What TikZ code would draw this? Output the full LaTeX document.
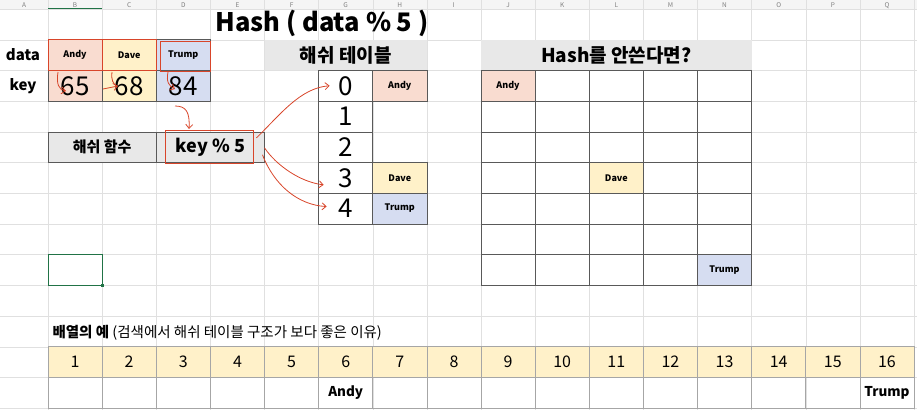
\documentclass[tikz,border=0pt]{standalone}
\usepackage{fontspec}
\setmainfont{Noto Sans CJK KR}
\usetikzlibrary{arrows.meta,positioning}
\definecolor{pinkc}{HTML}{F9DCD0}
\definecolor{yelc}{HTML}{FFF1C9}
\definecolor{bluec}{HTML}{D6DDF1}
\definecolor{grayc}{HTML}{E8E8E8}
\definecolor{gridc}{HTML}{E0E0E0}
\definecolor{redc}{HTML}{D8452A}
\definecolor{selc}{HTML}{217346}
\newcommand{\cx}[1]{48+54.125*(#1-0.5)}
\newcommand{\ry}[1]{9+30.7*(#1-0.5)}
\tikzset{
  cell/.style={minimum width=54.125pt,minimum height=30.7pt,inner sep=0pt,outer sep=0pt,draw=black!65,line width=0.6pt},
  wide/.style={cell,minimum width=108.25pt},
  lbl/.style={font=\bfseries\fontsize{9}{10}\selectfont},
  bignum/.style={font=\fontsize{26}{28}\selectfont},
  head/.style={font=\bfseries\fontsize{19}{21}\selectfont},
  colltr/.style={font=\fontsize{6.5}{7}\selectfont,text=black!50,anchor=base},
  redbox/.style={draw=redc,line width=1pt},
  hand/.style={draw=redc,line width=0.8pt,-{Straight Barb[length=4pt,width=7pt]}}
}
\begin{document}
\begin{tikzpicture}[x=1pt,y=-1pt]
\useasboundingbox (0,0) rectangle (917,410);
\clip (0,0) rectangle (917,410);
% sheet grid and column letters
\fill[black!4] (0,0) rectangle (917,9);
\foreach \k in {0,...,16} \draw[gridc] ({48+54.125*\k},0) -- ({48+54.125*\k},410);
\foreach \k in {0,...,13} \draw[gridc] (0,{9+30.7*\k}) -- (917,{9+30.7*\k});
\node[colltr] at (24,7.3) {A};
\foreach \c/\l in {1/B,2/C,3/D,4/E,5/F,6/G,7/H,8/I,9/J,10/K,11/L,12/M,13/N,14/O,15/P,16/Q}
  \node[colltr] at ({\cx{\c}},7.3) {\l};
\draw[selc,line width=1pt] (48,8.5) -- (102,8.5);
% title
\node[font=\bfseries\fontsize{25.5}{27}\selectfont] (title) at (322,23) {Hash ( data \% 5 )};
% data / key
\node[font=\bfseries\fontsize{15}{17}\selectfont] (datalbl) at (23,{\ry{2}}) {data};
\node[font=\bfseries\fontsize{15}{17}\selectfont] (keylbl) at (23,{\ry{3}}) {key};
\node[cell,lbl,fill=pinkc] (dandy) at ({\cx{1}},{\ry{2}}) {Andy};
\node[cell,lbl,fill=yelc] (ddave) at ({\cx{2}},{\ry{2}}) {Dave};
\node[cell,lbl,fill=bluec] (dtrump) at ({\cx{3}},{\ry{2}}) {Trump};
\node[cell,bignum,fill=pinkc] (k65) at ({\cx{1}},{\ry{3}}) {65};
\node[cell,bignum,fill=yelc] (k68) at ({\cx{2}},{\ry{3}}) {68};
\node[cell,bignum,fill=bluec] (k84) at ({\cx{3}},{\ry{3}}) {84};
\draw[redbox] (dandy.north west) rectangle (dandy.south east);
\draw[redbox] (ddave.north west) rectangle (ddave.south east);
\draw[redbox] ([shift={(4,2)}]dtrump.north west) rectangle ([shift={(0,1)}]dtrump.south east);
% hash function
\node[wide,fill=grayc,font=\bfseries\fontsize{15}{17}\selectfont] (hfunc) at ({\cx{1.5}},{\ry{5}}) {해쉬 함수};
\node[wide,fill=grayc,font=\bfseries\fontsize{18}{20}\selectfont] (hkey) at ({\cx{3.5}},{\ry{5}}) {key \% 5};
\draw[redbox] (165,130) rectangle (253,163);
% hash table
\node[cell,draw=none,minimum width=162.375pt,fill=grayc,head] (htitle) at ({\cx{6}},{\ry{2}}) {해쉬 테이블};
\foreach \i in {0,...,4}
  \node[cell,bignum,fill=white] (slot\i) at ({\cx{6}},{\ry{3+\i}}) {\i};
\node[cell,lbl,fill=pinkc] (tandy) at ({\cx{7}},{\ry{3}}) {Andy};
\node[cell,lbl,fill=yelc] (tdave) at ({\cx{7}},{\ry{6}}) {Dave};
\node[cell,lbl,fill=bluec] (ttrump) at ({\cx{7}},{\ry{7}}) {Trump};
% without hash
\node[cell,draw=none,minimum width=270.625pt,fill=grayc,head] (ntitle) at ({\cx{11}},{\ry{2}}) {Hash를 안쓴다면?};
\foreach \c in {9,...,13}
  \foreach \r in {3,...,9}
    \node[cell] (n\c-\r) at ({\cx{\c}},{\ry{\r}}) {};
\node[cell,lbl,fill=pinkc] (nandy) at ({\cx{9}},{\ry{3}}) {Andy};
\node[cell,lbl,fill=yelc] (ndave) at ({\cx{11}},{\ry{6}}) {Dave};
\node[cell,lbl,fill=bluec] (ntrump) at ({\cx{13}},{\ry{9}}) {Trump};
% selected cell
\node[cell,draw=selc,line width=1pt] (sel) at ({\cx{1}},{\ry{9}}) {};
\fill[selc] ([shift={(-1.5,-1.5)}]sel.south east) rectangle ([shift={(1.5,1.5)}]sel.south east);
% array example
\node[anchor=west,font=\fontsize{14.5}{16}\selectfont] (arrlbl) at (49,{\ry{11}+1}) {\textbf{배열의 예} (검색에서 해쉬 테이블 구조가 보다 좋은 이유)};
\foreach \c in {1,...,16} {
  \node[cell,draw=black!35,fill=yelc,font=\fontsize{16}{18}\selectfont] (a\c) at ({\cx{\c}},{\ry{12}}) {\c};
  \node[cell,draw=black!35] (b\c) at ({\cx{\c}},{\ry{13}}) {};
}
\node[font=\bfseries\fontsize{13.5}{15}\selectfont] at (b6) {Andy};
\node[font=\bfseries\fontsize{13.5}{15}\selectfont] at (b16) {Trump};
% hand drawn arrows
\draw[hand] (58,72) .. controls (56,84) and (59,90) .. (66,91);
\draw[draw=redc,line width=0.8pt] (112,72) .. controls (111,80) and (113,84) .. (117,86);
\draw[hand] (103,89) -- (118,86);
\draw[hand] (168,72) .. controls (166,82) and (169,86) .. (175,89);
\draw[hand] (175,106) .. controls (186,106) and (190,112) .. (189,129);
\draw[hand] ([shift={(-8,6)}]hkey.north east) .. controls (280,115) and (300,88) .. ([xshift=11]slot0.west);
\draw[hand] ([shift={(0,16)}]hkey.north east) .. controls (276,165) and (300,182) .. ([shift={(5,7)}]slot3.west);
\draw[hand] ([shift={(-2,23)}]hkey.north east) .. controls (274,185) and (298,205) .. ([shift={(8,-2)}]slot4.west);
\end{tikzpicture}
\end{document}
